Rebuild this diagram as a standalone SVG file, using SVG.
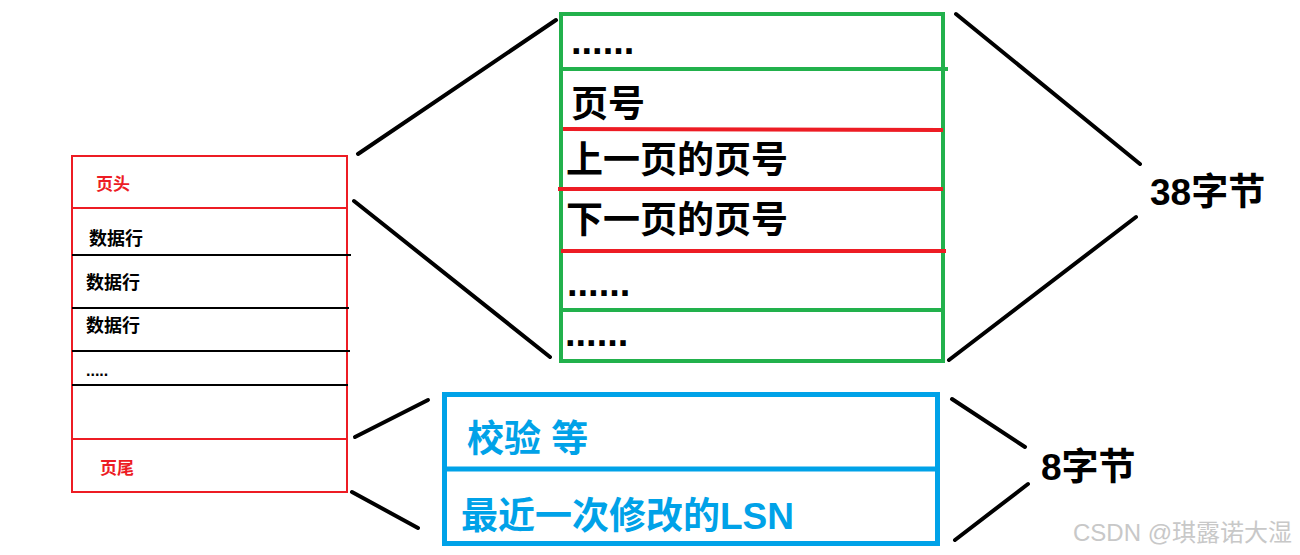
<svg xmlns="http://www.w3.org/2000/svg" width="1300" height="555" viewBox="0 0 1300 555">
<style>
.t{font-family:"Liberation Sans","Noto Sans CJK SC",sans-serif;font-weight:bold}
.conn{stroke:#000;stroke-width:4;stroke-linecap:round;fill:none}
.red{stroke:#ed1c24}
.blk{stroke:#000}
.grn{stroke:#22b14c}
.blu{stroke:#00a2e8}
</style>
<rect width="1300" height="555" fill="#fff"/>
<g id="page">
<rect x="72" y="156" width="275" height="336" fill="none" stroke="#ed1c24" stroke-width="2"/>
<line x1="72" y1="208" x2="347" y2="208" class="red" stroke-width="2"/>
<line x1="72" y1="255" x2="351" y2="255" class="blk" stroke-width="2"/>
<line x1="72" y1="308" x2="349" y2="308" class="blk" stroke-width="2"/>
<line x1="72" y1="351" x2="350" y2="351" class="blk" stroke-width="2"/>
<line x1="72" y1="385" x2="348" y2="385" class="blk" stroke-width="2"/>
<line x1="72" y1="439" x2="347" y2="439" class="red" stroke-width="2"/>
<text x="96" y="190" class="t" font-size="17" fill="#ed1c24">页头</text>
<text x="89" y="245" class="t" font-size="18" fill="#000">数据行</text>
<text x="86" y="289" class="t" font-size="18" fill="#000">数据行</text>
<text x="86" y="332" class="t" font-size="18" fill="#000">数据行</text>
<text x="86" y="376" class="t" font-size="16" fill="#000">.....</text>
<text x="100" y="474" class="t" font-size="17" fill="#ed1c24">页尾</text>
</g>
<g id="header38">
<rect x="561" y="14" width="382" height="347" fill="none" stroke="#22b14c" stroke-width="4"/>
<line x1="561" y1="69" x2="948" y2="69" class="grn" stroke-width="4"/>
<line x1="563" y1="129" x2="943" y2="130" class="red" stroke-width="4"/>
<line x1="558" y1="189" x2="943" y2="189" class="red" stroke-width="4"/>
<line x1="561" y1="251" x2="946" y2="251" class="red" stroke-width="4"/>
<line x1="561" y1="310" x2="943" y2="310" class="grn" stroke-width="4"/>
<text x="571" y="54" class="t" font-size="38" fill="#000">......</text>
<text x="571" y="117" class="t" font-size="37" fill="#000">页号</text>
<text x="566" y="173" class="t" font-size="37" fill="#000">上一页的页号</text>
<text x="566" y="233" class="t" font-size="37" fill="#000">下一页的页号</text>
<text x="567" y="296" class="t" font-size="38" fill="#000">......</text>
<text x="565" y="346" class="t" font-size="38" fill="#000">......</text>
</g>
<g id="trailer8">
<rect x="444.5" y="394.5" width="493" height="149" fill="none" stroke="#00a2e8" stroke-width="5"/>
<line x1="444" y1="469" x2="938" y2="469" class="blu" stroke-width="5"/>
<text x="467" y="452" class="t" font-size="37" fill="#00a2e8">校验 等</text>
<text x="461" y="529" class="t" font-size="37" fill="#00a2e8">最近一次修改的LSN</text>
</g>
<g id="label38"><text x="1150" y="205" class="t" font-size="37" fill="#000">38字节</text></g>
<g id="label8"><text x="1041" y="480" class="t" font-size="37" fill="#000">8字节</text></g>
<g id="connectors">
<line x1="358" y1="154" x2="556" y2="20" class="conn"/>
<line x1="354" y1="201" x2="550" y2="357" class="conn"/>
<line x1="956" y1="14" x2="1140" y2="164" class="conn"/>
<line x1="949" y1="360" x2="1136" y2="217" class="conn"/>
<line x1="355" y1="437" x2="428" y2="400" class="conn"/>
<line x1="352" y1="492" x2="418" y2="528" class="conn"/>
<line x1="952" y1="399" x2="1025" y2="447" class="conn"/>
<line x1="955" y1="540" x2="1028" y2="484" class="conn"/>
</g>
<text x="1073" y="541" font-family="Liberation Sans,'Noto Sans CJK SC',sans-serif" font-size="24" fill="#c8c8c8">CSDN @琪露诺大湿</text>
</svg>
